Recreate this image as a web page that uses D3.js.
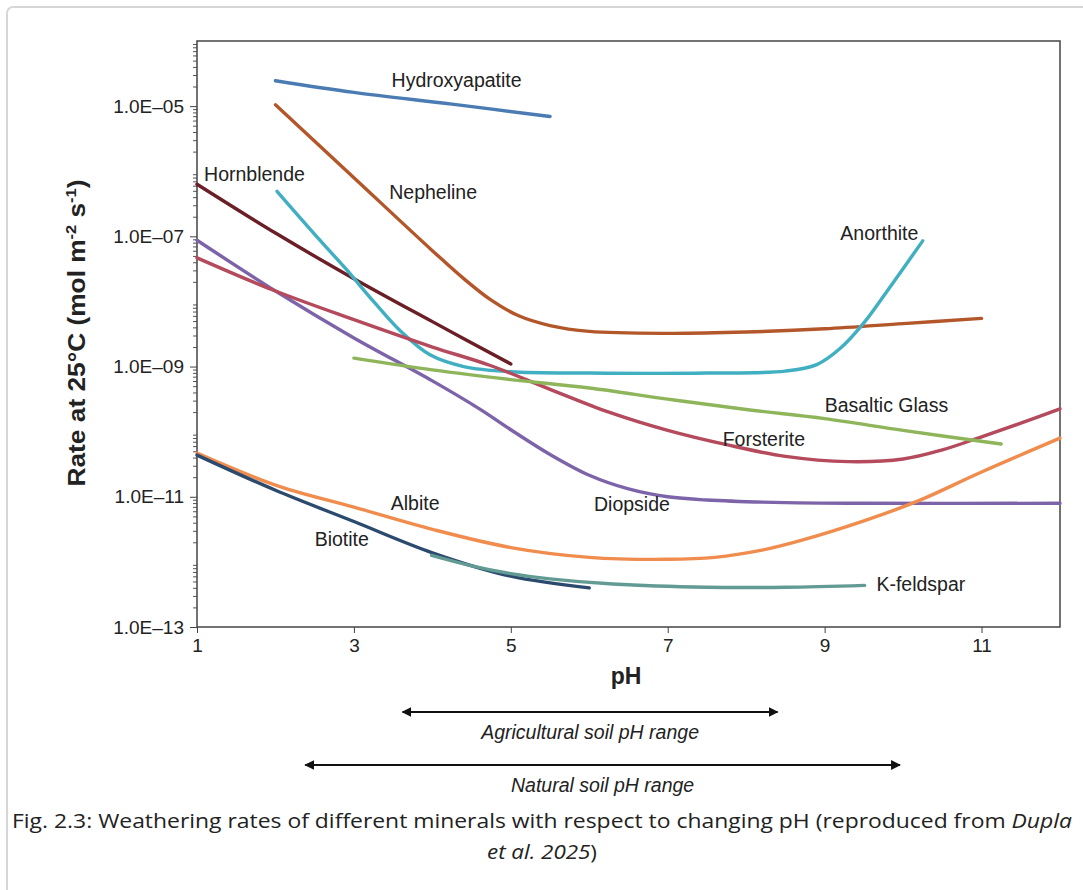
<!DOCTYPE html>
<meta charset="utf-8">
<script src="https://d3js.org/d3.v7.min.js"></script>
<style>
  body { margin: 0; background: #fff; }
</style>
<div id="chart"></div>
<script>
// Data: [pH, log10(rate)]
var hydroxyapatite = [[2,-4.61],[3,-4.79],[4.25,-4.97],[5.5,-5.16]];
var nepheline = [[2,-4.98],[3,-6.1],[4,-7.22],[4.4,-7.65],[4.75,-7.98],[5.1,-8.22],[5.5,-8.37],[6,-8.46],[7,-8.49],[8,-8.47],[9,-8.42],[10,-8.34],[11,-8.26]];
var hornblende = [[1,-6.2],[2,-6.95],[3,-7.65],[4,-8.31],[5,-8.96]];
var anorthite = [[2.02,-6.31],[2.5,-6.97],[2.89,-7.49],[3.25,-8.0],[3.59,-8.45],[3.97,-8.82],[4.4,-9.0],[5,-9.08],[6,-9.1],[7.5,-9.1],[8.5,-9.07],[8.9,-8.97],[9.2,-8.72],[9.5,-8.33],[9.85,-7.75],[10.25,-7.07]];
var diopside = [[1,-7.06],[2,-7.84],[3,-8.56],[4,-9.22],[4.6,-9.65],[5,-9.97],[5.5,-10.35],[6,-10.67],[6.5,-10.88],[7,-11.0],[7.5,-11.05],[8.5,-11.09],[9.5,-11.1],[12,-11.1]];
var forsterite = [[1,-7.33],[2,-7.84],[3,-8.28],[4,-8.7],[4.73,-8.98],[5.5,-9.35],[6.25,-9.7],[7,-9.98],[7.75,-10.2],[8.5,-10.38],[9.3,-10.46],[10,-10.42],[10.5,-10.28],[11,-10.08],[11.5,-9.87],[12,-9.65]];
var basalticGlass = [[3,-8.87],[4,-9.05],[5,-9.2],[6,-9.33],[7,-9.5],[8,-9.66],[9,-9.8],[10,-9.98],[11.25,-10.19]];
var albite = [[1,-10.33],[2,-10.82],[3,-11.16],[4,-11.5],[5,-11.78],[6,-11.93],[7,-11.96],[7.6,-11.93],[8.2,-11.82],[8.7,-11.67],[9.5,-11.37],[10.2,-11.06],[11,-10.62],[12,-10.1]];
var biotite = [[1,-10.36],[2,-10.9],[3,-11.38],[4,-11.86],[5,-12.22],[6,-12.4]];
var kFeldspar = [[3.99,-11.9],[4.5,-12.06],[5,-12.18],[5.5,-12.26],[6.3,-12.34],[7.5,-12.39],[8.5,-12.39],[9.51,-12.36]];

var seriesNames = ["Hydroxyapatite","Nepheline","Hornblende","Anorthite","Diopside","Forsterite","Basaltic Glass","Albite","Biotite","K-feldspar"];
var seriesData = [hydroxyapatite, nepheline, hornblende, anorthite, diopside, forsterite, basalticGlass, albite, biotite, kFeldspar];
var seriesColors = ["#4b7bb3","#b3572b","#6a1f27","#41afc2","#7d64a9","#b44a5c","#8fb55b","#f08d4e","#2b4a6d","#619b93"];
// label anchor points [pH, log10(rate)] (left edge / baseline of text)
var labelPos = [[3.48,-4.71],[3.45,-6.43],[1.09,-6.15],[9.2,-7.06],[6.06,-11.22],[7.7,-10.22],[9.0,-9.7],[3.47,-11.2],[2.5,-11.76],[9.66,-12.45]];

var xTicks = [1,3,5,7,9,11];
var yTicks = [1e-13,1e-11,1e-9,1e-7,1e-5];
var ranges = [{name:"Agricultural soil pH range", from:3.62, to:8.4}, {name:"Natural soil pH range", from:2.38, to:9.96}];

var W = 1083, H = 890;
var font = "Liberation Sans, Arial, sans-serif";
var svg = d3.select("#chart").append("svg").attr("width", W).attr("height", H);

// card border
svg.append("rect").attr("x",7).attr("y",7).attr("width",1100).attr("height",920)
  .attr("rx",6).attr("fill","none").attr("stroke","#d6d6d6").attr("stroke-width",2);

var x = d3.scaleLinear().domain([1,12]).range([197,1060]);
var y = d3.scaleLog().domain([1e-13,1e-4]).range([627,41]);

// minor ticks on y
var minor = [];
for (var e = -13; e < -4; e++) for (var m = 2; m <= 9; m++) minor.push(m*Math.pow(10,e));
svg.append("g").attr("transform","translate(197,0)")
  .call(d3.axisLeft(y).tickValues(minor).tickSize(4).tickFormat(""))
  .call(g => g.select(".domain").remove())
  .call(g => g.selectAll("line").attr("stroke","#555"));

svg.append("g").attr("transform","translate(197,0)")
  .call(d3.axisLeft(y).tickValues(yTicks).tickSize(7).tickPadding(6)
    .tickFormat(d => "1.0E\u2013" + String(-Math.round(Math.log10(d))).padStart(2,"0")))
  .call(g => g.select(".domain").remove())
  .call(g => g.selectAll("line").attr("stroke","#444"))
  .call(g => g.selectAll("text").attr("font-family",font).attr("font-size",19).attr("fill","#222"));

svg.append("g").attr("transform","translate(0,627)")
  .call(d3.axisBottom(x).tickValues(xTicks).tickSize(6).tickPadding(6))
  .call(g => g.select(".domain").remove())
  .call(g => g.selectAll("line").attr("stroke","#444"))
  .call(g => g.selectAll("text").attr("font-family",font).attr("font-size",19).attr("fill","#222"));

// frame
svg.append("rect").attr("x",197).attr("y",41).attr("width",863).attr("height",586)
  .attr("fill","none").attr("stroke","#444").attr("stroke-width",1.5);

// lines
var line = d3.line().x(d => x(d[0])).y(d => y(Math.pow(10,d[1]))).curve(d3.curveCatmullRom.alpha(0.5));
seriesData.forEach(function(s, i){
  svg.append("path").datum(s).attr("fill","none").attr("stroke",seriesColors[i])
    .attr("stroke-width",3.4).attr("stroke-linecap","round").attr("d",line);
});

// labels
seriesNames.forEach(function(n, i){
  svg.append("text").attr("x",x(labelPos[i][0])).attr("y",y(Math.pow(10,labelPos[i][1])))
    .attr("font-family",font).attr("font-size",19.5).attr("fill","#222")
    .text(n);
});

// axis titles
svg.append("text").attr("x",626).attr("y",684).attr("text-anchor","middle")
  .attr("font-family",font).attr("font-weight","bold").attr("font-size",23).attr("fill","#222")
  .text("pH");
var yl = svg.append("text").attr("transform","translate(85,333) rotate(-90)").attr("text-anchor","middle")
  .attr("font-family",font).attr("font-weight","bold").attr("font-size",24).attr("fill","#222")
  .attr("textLength",307).attr("lengthAdjust","spacingAndGlyphs");
yl.append("tspan").text("Rate at 25°C (mol m");
yl.append("tspan").attr("font-size",15).attr("dy",-9).text("-2");
yl.append("tspan").attr("dy",9).text(" s");
yl.append("tspan").attr("font-size",15).attr("dy",-9).text("-1");
yl.append("tspan").attr("dy",9).text(")");

// pH range arrows
svg.append("defs").append("marker").attr("id","arr").attr("viewBox","0 0 10 10")
  .attr("refX",9).attr("refY",5).attr("markerWidth",4.5).attr("markerHeight",4.5).attr("orient","auto-start-reverse")
  .append("path").attr("d","M0,0 L10,5 L0,10 Z").attr("fill","#111");
var rangeY = [712, 765];
ranges.forEach(function(r, i){
  svg.append("line").attr("x1",x(r.from)).attr("x2",x(r.to)).attr("y1",rangeY[i]).attr("y2",rangeY[i])
    .attr("stroke","#111").attr("stroke-width",2.2)
    .attr("marker-start","url(#arr)").attr("marker-end","url(#arr)");
  svg.append("text").attr("x",(x(r.from)+x(r.to))/2).attr("y",rangeY[i]+27).attr("text-anchor","middle")
    .attr("font-family",font).attr("font-style","italic").attr("font-size",19.5).attr("fill","#222")
    .text(r.name);
});

// caption
var c1 = svg.append("text").attr("x",542).attr("y",828).attr("text-anchor","middle")
  .attr("font-family","Open Sans, sans-serif").attr("font-size",20).attr("fill","#222")
  .attr("textLength",1060).attr("lengthAdjust","spacingAndGlyphs");
c1.append("tspan").text("Fig. 2.3: Weathering rates of different minerals with respect to changing pH (reproduced from ");
c1.append("tspan").attr("font-style","italic").text("Dupla");
var c2 = svg.append("text").attr("x",542).attr("y",859).attr("text-anchor","middle")
  .attr("font-family","Open Sans, sans-serif").attr("font-size",20).attr("fill","#222")
  .attr("textLength",110).attr("lengthAdjust","spacingAndGlyphs");
c2.append("tspan").attr("font-style","italic").text("et al. 2025");
c2.append("tspan").text(")");
</script>
